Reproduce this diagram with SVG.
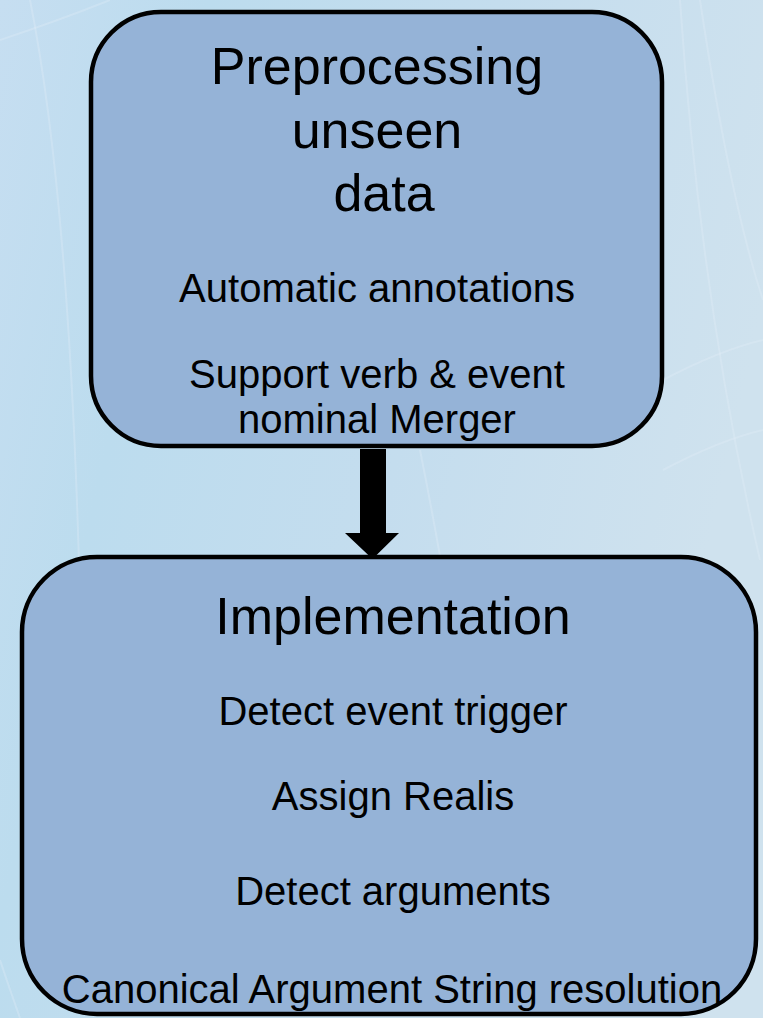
<svg xmlns="http://www.w3.org/2000/svg" width="763" height="1018" viewBox="0 0 763 1018">
  <defs>
    <linearGradient id="bg" x1="0" y1="0" x2="1" y2="0.3">
      <stop offset="0" stop-color="#c6def1"/>
      <stop offset="0.25" stop-color="#bcdcee"/>
      <stop offset="0.6" stop-color="#c4ddee"/>
      <stop offset="1" stop-color="#cfe2ee"/>
    </linearGradient>
    <style>
      .box { fill: #95b3d7; stroke: #000; stroke-width: 4.5; }
      .t { font-family: "Liberation Sans", Arial, sans-serif; fill: #000; text-anchor: middle; }
      .big { font-size: 52px; }
      .small { font-size: 40px; }
      .streak { fill: none; stroke: #e4f0f8; stroke-width: 2; opacity: 0.3; }
    </style>
  </defs>
  <rect x="0" y="0" width="763" height="1018" fill="url(#bg)"/>
  <g id="background-streaks">
    <path class="streak" d="M0 40 Q60 20 110 0"/>
    <path class="streak" d="M30 0 Q70 200 80 600"/>
    <path class="streak" d="M680 0 Q700 300 760 560"/>
    <path class="streak" d="M700 0 Q730 200 763 300"/>
    <path class="streak" d="M663 380 Q720 350 763 340"/>
    <path class="streak" d="M663 470 Q720 440 763 430"/>
    <path class="streak" d="M420 450 Q430 500 440 556"/>
    <path class="streak" d="M0 960 Q10 990 20 1018"/>
  </g>
  <g id="connectors">
    <polygon points="360,449 386,449 386,533 399,533 372.5,559 345,533 360,533" fill="#000"/>
  </g>
  <g id="node-preprocessing">
    <rect class="box" x="91" y="12" width="571" height="434" rx="70" ry="70"/>
    <text class="t big" x="377" y="84">Preprocessing</text>
    <text class="t big" x="377" y="148">unseen</text>
    <text class="t big" x="384" y="211">data</text>
    <text class="t small" x="377" y="302">Automatic annotations</text>
    <text class="t small" x="377" y="388">Support verb &amp; event</text>
    <text class="t small" x="377" y="433">nominal Merger</text>
  </g>
  <g id="node-implementation">
    <rect class="box" x="22" y="557" width="734" height="457" rx="75" ry="75"/>
    <text class="t big" x="393" y="634">Implementation</text>
    <text class="t small" x="393" y="725">Detect event trigger</text>
    <text class="t small" x="393" y="810">Assign Realis</text>
    <text class="t small" x="393" y="905">Detect arguments</text>
    <text class="t small" x="392" y="1003">Canonical Argument String resolution</text>
  </g>
</svg>
